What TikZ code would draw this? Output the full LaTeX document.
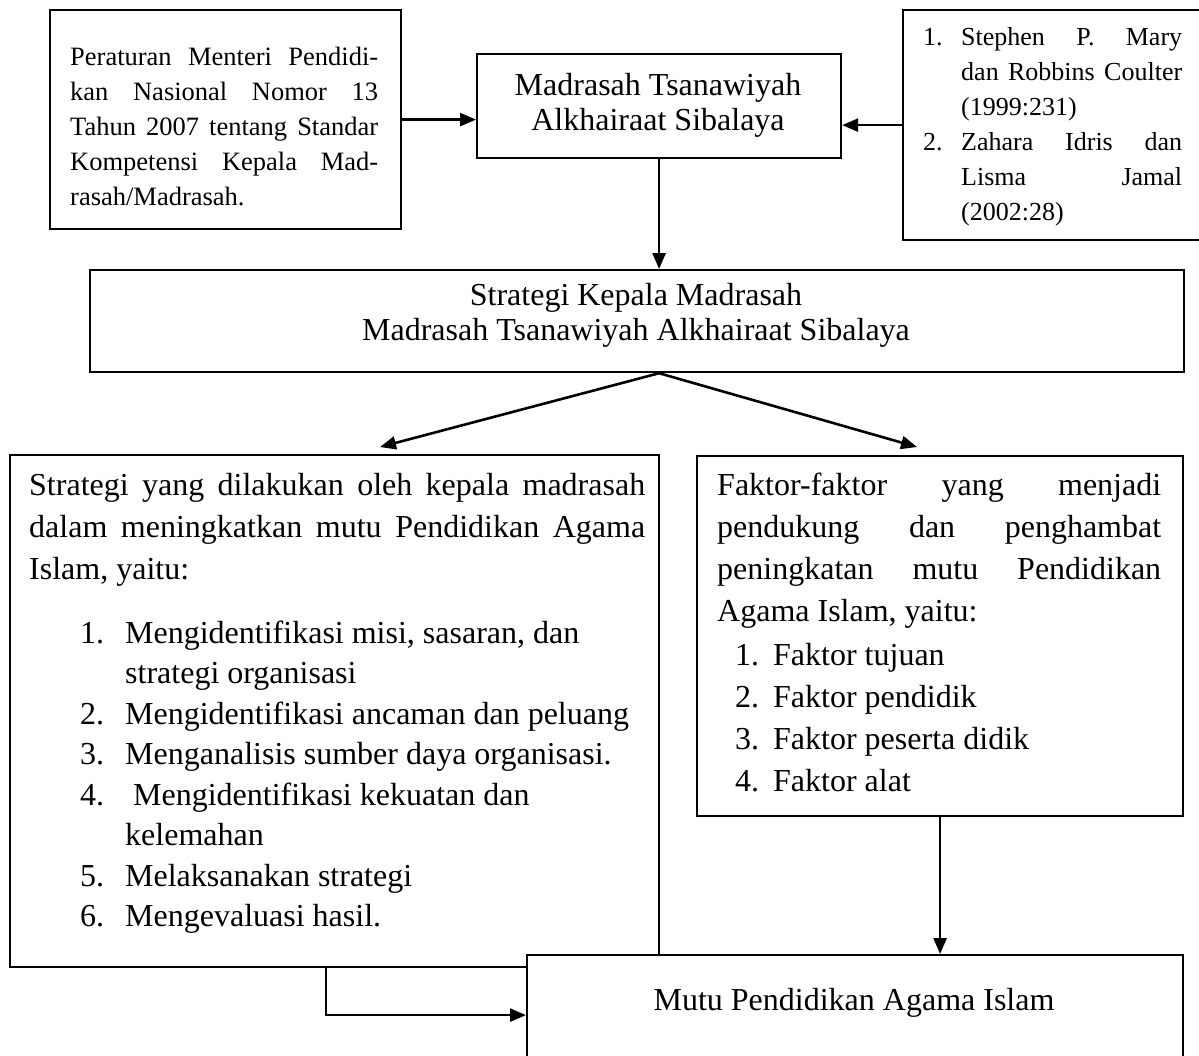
\documentclass[tikz,border=0pt]{standalone}
\usepackage{fontspec}
\setmainfont{Liberation Serif}
\usetikzlibrary{arrows.meta}
\begin{document}
\begin{tikzpicture}[x=1pt,y=-1pt,
  box/.style={draw,line width=2.2pt,inner sep=0pt,anchor=north west,fill=white},
  txt/.style={inner sep=0pt,anchor=base west},
  ctxt/.style={inner sep=0pt,anchor=base},
  arr/.style={line width=2.6pt,-{Triangle[length=16pt,width=13pt]}}]
\useasboundingbox (0,0) rectangle (1199,1055);
\clip (0,0) rectangle (1199,1055);
\fill[white] (0,0) rectangle (1199,1055);
% boxes
\node[box,minimum width=351pt,minimum height=219pt] (A) at (49,9) {};
\node[box,minimum width=364pt,minimum height=104pt] (B) at (476,53) {};
\node[box,minimum width=310pt,minimum height=230pt] (C) at (902,9) {};
\node[box,minimum width=1094pt,minimum height=102pt] (D) at (89,269) {};
\node[box,minimum width=649pt,minimum height=512pt] (E) at (9,454) {};
\node[box,minimum width=486pt,minimum height=360pt] (G) at (696,455) {};
\node[box,minimum width=656pt,minimum height=120pt] (F) at (526,954) {};
% texts
\node[txt] (At) at (70,65) {\parbox[t]{308pt}{\fontsize{26.5}{35}\selectfont
\makebox[308pt][s]{Peraturan Menteri Pendidi-}\\
\makebox[308pt][s]{kan Nasional Nomor 13}\\
\makebox[308pt][s]{Tahun 2007 tentang Standar}\\
\makebox[308pt][s]{Kompetensi Kepala Mad-}\\
rasah/Madrasah.}};
\node[ctxt] (Bt) at (658,95) {\parbox[t]{360pt}{\centering\fontsize{32}{35}\selectfont
Madrasah Tsanawiyah\\Alkhairaat Sibalaya}};
\node[txt] (Ct) at (923,45) {\parbox[t]{260pt}{\fontsize{26}{35}\selectfont
\makebox[38pt][l]{1.}\makebox[221pt][s]{Stephen P. Mary}\\
\hspace*{38pt}\makebox[221pt][s]{dan Robbins Coulter}\\
\hspace*{38pt}(1999:231)\\
\makebox[38pt][l]{2.}\makebox[221pt][s]{Zahara Idris dan}\\
\hspace*{38pt}\makebox[221pt][s]{Lisma Jamal}\\
\hspace*{38pt}(2002:28)}};
\node[ctxt] (Dt) at (636,305) {\parbox[t]{1000pt}{\centering\fontsize{32}{35}\selectfont
Strategi Kepala Madrasah\\Madrasah Tsanawiyah Alkhairaat Sibalaya}};
\node[txt] (Et) at (29,495) {\parbox[t]{616pt}{\fontsize{32}{42}\selectfont
\makebox[616pt][s]{Strategi yang dilakukan oleh kepala madrasah}\\
\makebox[616pt][s]{dalam meningkatkan mutu Pendidikan Agama}\\
Islam, yaitu:}};
\node[txt] (El) at (80,643) {\parbox[t]{575pt}{\fontsize{32}{40.5}\selectfont
\makebox[45pt][l]{1.}Mengidentifikasi misi, sasaran, dan\\
\hspace*{45pt}strategi organisasi\\
\makebox[45pt][l]{2.}Mengidentifikasi ancaman dan peluang\\
\makebox[45pt][l]{3.}Menganalisis sumber daya organisasi.\\
\makebox[45pt][l]{4.}\hspace*{8pt}Mengidentifikasi kekuatan dan\\
\hspace*{45pt}kelemahan\\
\makebox[45pt][l]{5.}Melaksanakan strategi\\
\makebox[45pt][l]{6.}Mengevaluasi hasil.}};
\node[txt] (Gt) at (717,495) {\parbox[t]{444pt}{\fontsize{32}{42}\selectfont
\makebox[444pt][s]{Faktor-faktor yang menjadi}\\
\makebox[444pt][s]{pendukung dan penghambat}\\
\makebox[444pt][s]{peningkatan mutu Pendidikan}\\
Agama Islam, yaitu:}};
\node[txt] (Gl) at (735,665) {\parbox[t]{420pt}{\fontsize{32}{42}\selectfont
\makebox[38pt][l]{1.}Faktor tujuan\\
\makebox[38pt][l]{2.}Faktor pendidik\\
\makebox[38pt][l]{3.}Faktor peserta didik\\
\makebox[38pt][l]{4.}Faktor alat}};
\node[ctxt] (Ft) at (854,1010) {\fontsize{32}{35}\selectfont Mutu Pendidikan Agama Islam};
% connectors
\draw[arr] (A.east) -- (A.east -| B.west);
\draw[arr] (C.west) -- (C.west -| B.east);
\draw[arr] (B.south) -- (B.south |- D.north);
\coordinate (Dsplit) at (B.south |- D.south);
\coordinate (Etip) at (380,447);
\coordinate (Gtip) at (917,447);
\draw[arr] (Dsplit) -- (Etip);
\draw[arr] (Dsplit) -- (Gtip);
\draw[arr] (G.south) -- (G.south |- F.north);
\coordinate (Eout) at (326,966);
\draw[arr] (Eout) |- (F.west);
\end{tikzpicture}
\end{document}
